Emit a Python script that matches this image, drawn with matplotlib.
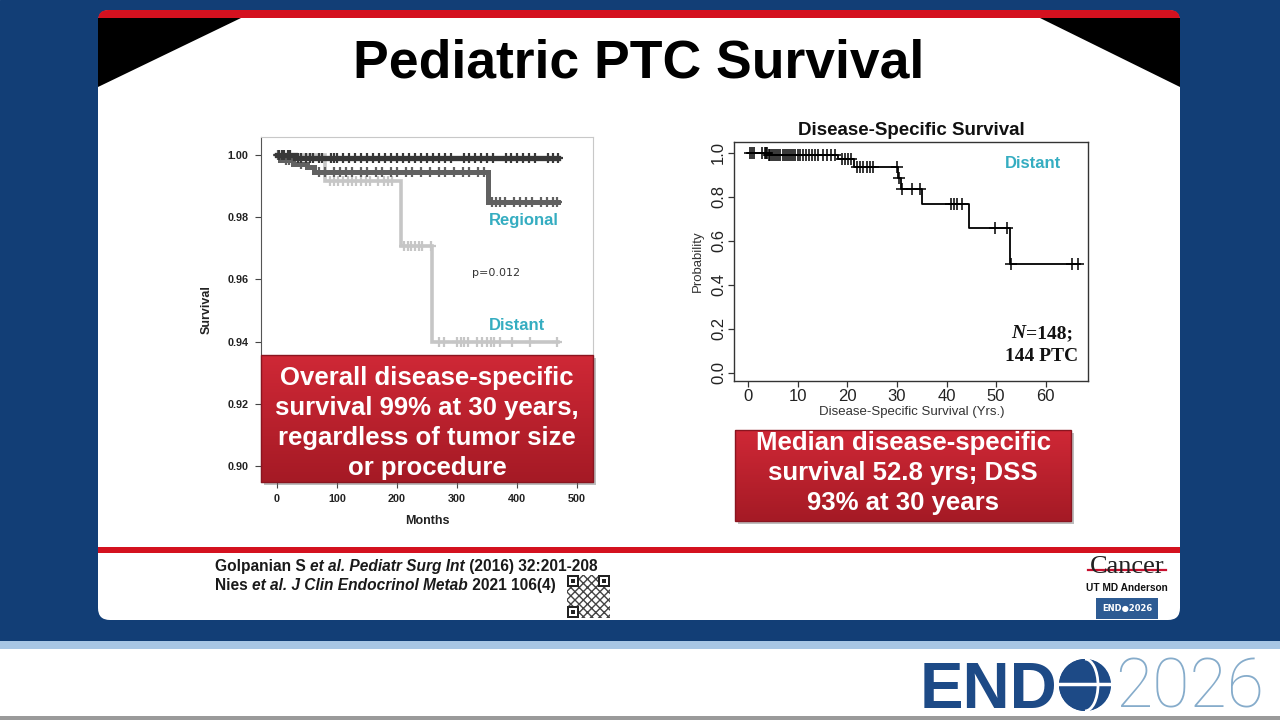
import numpy as np
import matplotlib
matplotlib.use('Agg')
import matplotlib.pyplot as plt
from matplotlib import font_manager
from matplotlib.patches import Rectangle, FancyBboxPatch, Polygon, Circle, Arc
from matplotlib.colors import LinearSegmentedColormap

plt.rcParams['font.family'] = ['Liberation Sans', 'DejaVu Sans']

# ---- left chart: Golpanian 2016, survival by extent of disease (months) ----
loc_t = [0, 30, 468]
loc_s = [1.0, 0.999, 0.999]
loc_cens = [3, 8, 12, 18, 22, 35, 40, 48, 55, 60, 70, 75, 90, 95, 100, 110, 120, 130,
            140, 150, 160, 170, 180, 190, 200, 210, 220, 230, 240, 250, 260, 270, 280,
            290, 312, 320, 330, 340, 350, 360, 382, 390, 400, 410, 420, 430, 452, 460, 468]

reg_t = [0, 5, 27, 50, 62, 352, 468]
reg_s = [1.0, 0.9985, 0.997, 0.996, 0.9945, 0.985, 0.985]
reg_cens = [2, 15, 20, 40, 70, 80, 95, 105, 115, 125, 140, 150, 165, 175, 190, 200, 215,
            225, 240, 255, 270, 280, 295, 310, 320, 335, 345, 358, 365, 372, 380, 395,
            405, 415, 425, 440, 450, 460, 467]

dist_t = [0, 80, 207, 258, 468]
dist_s = [1.0, 0.9915, 0.9707, 0.9398, 0.9398]
dist_cens = [88, 95, 102, 110, 118, 125, 132, 140, 148, 155, 168, 178, 185, 192, 212, 218,
             224, 230, 236, 242, 256, 270, 278, 300, 307, 312, 318, 333, 342, 350, 356,
             362, 372, 392, 422, 466]

left_xticks = [0, 100, 200, 300, 400, 500]
left_yticks = [0.90, 0.92, 0.94, 0.96, 0.98, 1.00]

# ---- right chart: Nies 2021, disease-specific survival (years) ----
dss_t = [0, 4, 18.2, 21.3, 30.3, 30.8, 35.0, 44.5, 52.8, 67]
dss_s = [1.0, 0.988, 0.970, 0.934, 0.884, 0.835, 0.767, 0.656, 0.494, 0.494]
dss_cens = [0.3, 0.8, 1.2, 2.8, 3.3, 3.6, 3.8, 4.1, 4.4, 4.8, 5.2, 5.6, 6.0, 6.5, 7.0,
            7.4, 7.8, 8.2, 8.6, 9.0, 9.5, 10.0, 10.5, 11.0, 11.6, 12.2, 12.8, 13.4, 14.0,
            15.0, 15.8, 16.6, 17.5, 19.0, 19.6, 20.2, 20.8, 22.0, 22.6, 23.2, 24.0, 24.6,
            25.2, 30.0, 30.5, 31.0, 33.0, 34.6, 40.8, 41.6, 42.2, 43.2, 49.8, 52.2, 53.0,
            65.4, 66.6]
right_xticks = [0, 10, 20, 30, 40, 50, 60]
right_yticks = [0.0, 0.2, 0.4, 0.6, 0.8, 1.0]

TEAL = '#35adc1'
W, H = 1280, 720


def has_font(name):
    try:
        font_manager.findfont(name, fallback_to_default=False)
        return True
    except Exception:
        return False


NARROW = 'Liberation Sans Narrow' if has_font('Liberation Sans Narrow') else 'Liberation Sans'


def frac(x0, y0, x1, y1):
    # pixel box (top-left origin) -> figure fraction rect
    return [x0 / W, 1 - y1 / H, (x1 - x0) / W, (y1 - y0) / H]


def step_at(t, s, x):
    idx = np.searchsorted(t, x, side='right') - 1
    return np.asarray(s)[idx]


fig = plt.figure(figsize=(12.8, 7.2), dpi=100)
renderer = fig.canvas.get_renderer()

# background / slide frame
bg = fig.add_axes([0, 0, 1, 1], zorder=0)
bg.set_axis_off()
bg.add_patch(Rectangle((0, 0), W, 642, color='#123e76'))
bg.add_patch(FancyBboxPatch((98, 10), 1082, 610, boxstyle='round,pad=0,rounding_size=12',
                            fc='white', ec='none'))
bg.add_patch(FancyBboxPatch((98, 10), 1082, 30, boxstyle='round,pad=0,rounding_size=10',
                            fc='#d4111f', ec='none'))
bg.add_patch(Rectangle((98, 18), 1082, 40, fc='white', ec='none'))
bg.add_patch(Polygon([(98, 18), (241, 18), (98, 87)], closed=True, fc='black', ec='none'))
bg.add_patch(Polygon([(1040, 18), (1180, 18), (1180, 87)], closed=True, fc='black', ec='none'))
bg.add_patch(Rectangle((98, 547), 1082, 6, fc='#d4111f', ec='none'))
bg.add_patch(Rectangle((0, 641), W, 8, fc='#a8c6e4', ec='none'))
bg.add_patch(Rectangle((0, 649), W, 71, fc='white', ec='none'))
bg.add_patch(Rectangle((0, 716), W, 4, fc='#9a9a9a', ec='none'))
bg.set_xlim(0, W)
bg.set_ylim(H, 0)

bg.text(639, 63, 'Pediatric PTC Survival', fontsize=38.5, weight='bold', ha='center',
        va='center', color='black')

# ---- left KM chart ----
axl = fig.add_axes(frac(261, 137, 593, 482), zorder=1)
for t, s, cens, col, lw in [(dist_t, dist_s, dist_cens, '#c6c6c6', 2.6),
                            (reg_t, reg_s, reg_cens, '#616161', 3.6),
                            (loc_t, loc_s, loc_cens, '#383838', 3.8)]:
    axl.step(t, s, where='post', color=col, lw=lw, solid_joinstyle='miter')
    axl.plot(cens, step_at(t, s, cens), ls='none', marker='+', ms=6.5, mew=1.6, color=col)
axl.set_xlim(-26.7, 526.7)
axl.set_ylim(0.8949, 1.0058)
axl.set_xticks(left_xticks)
axl.set_yticks(left_yticks)
axl.set_yticklabels(['%.2f' % v for v in left_yticks])
axl.tick_params(length=4, width=0.8, color='#444444', labelsize=7.8, pad=5,
                labelcolor='#222222')
for lab in axl.get_xticklabels() + axl.get_yticklabels():
    lab.set_fontweight('bold')
for side in ['top', 'right']:
    axl.spines[side].set_color('#c8c8c8')
for side in ['left', 'bottom']:
    axl.spines[side].set_color('#555555')
axl.set_xlabel('Months', fontsize=9, weight='bold', color='#222222', va='center')
axl.set_ylabel('Survival', fontsize=9, weight='bold', color='#222222', va='center')
axl.xaxis.set_label_coords(0.5, -0.113)
axl.yaxis.set_label_coords(-0.163, 0.5)

# ---- right KM chart ----
axr = fig.add_axes(frac(734.3, 141.7, 1088.3, 380.7), zorder=1)
axr.step(dss_t, dss_s, where='post', color='black', lw=1.3)
axr.plot(dss_cens, step_at(dss_t, dss_s, dss_cens), ls='none', marker='+', ms=9, mew=1.1,
         color='black')
axr.set_xlim(-2.82, 68.6)
axr.set_ylim(-0.036, 1.05)
axr.set_xticks(right_xticks)
axr.set_yticks(right_yticks)
axr.set_yticklabels(['%.1f' % v for v in right_yticks], rotation=90, va='center')
axr.tick_params(length=4.5, width=0.9, color='#333333', labelsize=12, pad=1.5,
                labelcolor='#222222')
for side in axr.spines:
    axr.spines[side].set_color('#333333')
    axr.spines[side].set_linewidth(1.0)
axr.set_xlabel('Disease-Specific Survival (Yrs.)', fontsize=9.5, color='#333333', va='center')
axr.set_ylabel('Probability', fontsize=9.5, color='#333333', va='center')
axr.xaxis.set_label_coords(0.5, -0.13)
axr.yaxis.set_label_coords(-0.1025, 0.5)
axr.text(0.5, 1.045, 'Disease-Specific Survival', transform=axr.transAxes, ha='center',
         va='center', fontsize=13.5, weight='bold', color='#111111')

# ---- overlay: annotations, callout boxes, footer ----
ov = fig.add_axes([0, 0, 1, 1], zorder=5)
ov.set_axis_off()
ov.patch.set_alpha(0)

red_cmap = LinearSegmentedColormap.from_list('redbox', ['#cf2836', '#a51a25'])


def red_box(x0, y0, x1, y1):
    ov.add_patch(Rectangle((x0 + 3, y0 + 3), x1 - x0, y1 - y0, fc='#6d6d6d', ec='none',
                           alpha=0.45, zorder=1))
    grad = np.linspace(0, 1, 64)[:, None]
    ov.imshow(grad, cmap=red_cmap, extent=(x0, x1, y1, y0), aspect='auto', origin='upper',
              zorder=2, interpolation='bilinear')
    ov.add_patch(Rectangle((x0, y0), x1 - x0, y1 - y0, fill=False, ec='#8a1520', lw=1,
                           zorder=3))


red_box(261, 355, 593, 482)
ov.text(427, 423, 'Overall disease-specific\nsurvival 99% at 30 years,\n'
        'regardless of tumor size\nor procedure', ha='center', va='center', fontsize=18.5,
        weight='bold', color='white', linespacing=1.33, zorder=4)

red_box(735, 430, 1071, 521)
ov.text(903, 473, 'Median disease-specific\nsurvival 52.8 yrs; DSS\n93% at 30 years',
        ha='center', va='center', fontsize=18.5, weight='bold', color='white',
        linespacing=1.32, zorder=4)

ov.text(524, 221, 'Regional', ha='center', va='center', fontsize=12, weight='bold', color=TEAL)
ov.text(517, 326, 'Distant', ha='center', va='center', fontsize=12, weight='bold', color=TEAL)
ov.text(496, 273, 'p=0.012', ha='center', va='center', fontsize=8, color='#333333',
        family='DejaVu Sans')
ov.text(1033, 163, 'Distant', ha='center', va='center', fontsize=12, weight='bold', color=TEAL)


def text_width(s, **kw):
    a = ov.text(0, 0, '|' + s + '|', **kw)
    b = ov.text(0, 0, '||', **kw)
    w = a.get_window_extent(renderer).width - b.get_window_extent(renderer).width
    a.remove()
    b.remove()
    return w


def runs(x, y, parts, ha='left', **kw):
    widths = [text_width(s, fontstyle=st, **kw) for s, st in parts]
    cur = x - (sum(widths) / 2 if ha == 'center' else 0)
    for (s, st), w in zip(parts, widths):
        ov.text(cur, y, s, fontstyle=st, va='baseline', **kw)
        cur += w


serif = dict(fontsize=14, weight='bold', family=['Liberation Serif', 'DejaVu Serif'],
             color='#111111')
runs(1042, 338, [('N', 'italic'), ('=148;', 'normal')], ha='center', **serif)
runs(1042, 361, [('144 PTC', 'normal')], ha='center', **serif)

foot_size = 10.5 if NARROW != 'Liberation Sans' else 11.2
foot = dict(fontsize=foot_size, weight='bold', family=[NARROW, 'DejaVu Sans'], color='#1a1a1a')
runs(215, 571, [('Golpanian S ', 'normal'), ('et al. Pediatr Surg Int', 'italic'),
                (' (2016) 32:201-208', 'normal')], **foot)
runs(215, 590, [('Nies ', 'normal'), ('et al. J Clin Endocrinol Metab', 'italic'),
                (' 2021 106(4)', 'normal')], **foot)

# QR code placeholder
ov.add_patch(Rectangle((567, 575), 43, 43, fc='white', ec='#444444', hatch='xxxx', lw=0))
for qx, qy in [(567, 575), (598, 575), (567, 606)]:
    ov.add_patch(Rectangle((qx, qy), 12, 12, fc='#222222', ec='none'))
    ov.add_patch(Rectangle((qx + 2, qy + 2), 8, 8, fc='white', ec='none'))
    ov.add_patch(Rectangle((qx + 4, qy + 4), 4, 4, fc='#222222', ec='none'))

# MD Anderson logo
ov.text(1127, 567, 'Cancer', ha='center', va='center', fontsize=19,
        family=['Liberation Serif', 'DejaVu Serif'], color='#222222')
ov.plot([1088, 1166], [570, 570], color='#c8102e', lw=1.6)
ov.text(1127, 588, 'UT MD Anderson', ha='center', va='center', fontsize=7.3, weight='bold',
        family=[NARROW, 'DejaVu Sans'], color='#111111')
ov.add_patch(Rectangle((1096, 598), 62, 21, fc='#2d5b93', ec='none'))
ov.text(1127, 608.5, 'END\u25CF2026', ha='center', va='center', fontsize=6, weight='bold',
        color='white', family='DejaVu Sans')

# ENDO2026 logo
ov.text(920, 708, 'END', fontsize=47, weight='heavy', color='#1d4a86', va='baseline')
globe = Circle((1085, 685), 26, fc='#1d4a86', ec='none')
ov.add_patch(globe)
shade = LinearSegmentedColormap.from_list('globe', ['#1d4a86', '#1d4a86', '#6d9bd0'])
gim = ov.imshow(np.linspace(0, 1, 64)[None, :], cmap=shade, extent=(1059, 1111, 711, 659),
                aspect='auto', origin='upper', interpolation='bilinear')
gim.set_clip_path(globe)
ov.plot([1058, 1112], [684, 684], color='white', lw=2.5)
ov.add_patch(Arc((1085, 685), 26, 52, theta1=-90, theta2=90, color='white', lw=2))
ov.text(1115, 708, '2026', fontsize=49, weight='light', color='#86accb', va='baseline',
        family=['Roboto', 'DejaVu Sans'])

ov.set_xlim(0, W)
ov.set_ylim(H, 0)

fig.savefig('out.png', dpi=100)
